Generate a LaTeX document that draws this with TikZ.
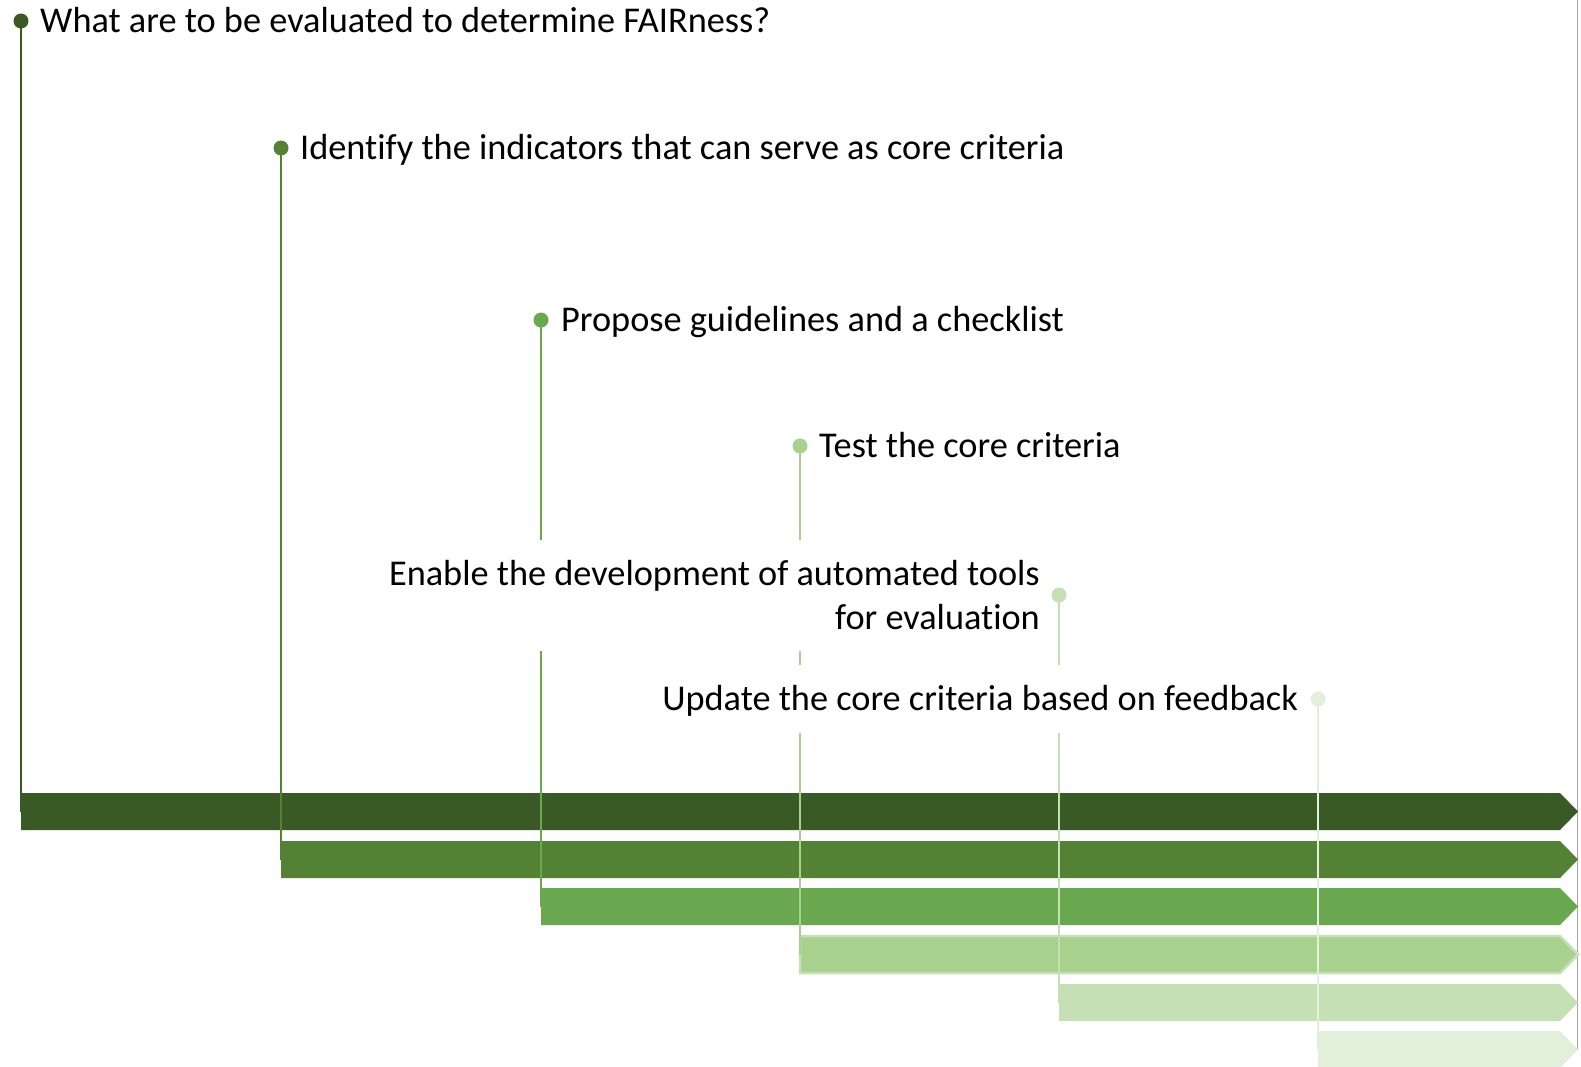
\documentclass[tikz,border=0pt]{standalone}
\usepackage{fontspec}
\setmainfont{Carlito}[Ligatures=CommonOff]
\definecolor{gA}{HTML}{3A5A25}
\definecolor{gB}{HTML}{548235}
\definecolor{gC}{HTML}{6AA84F}
\definecolor{gD}{HTML}{A9D18E}
\definecolor{gDo}{HTML}{C5E0B4}
\definecolor{gE}{HTML}{C5E0B4}
\definecolor{gF}{HTML}{E2EFDA}
\definecolor{edge}{HTML}{A6A6A6}
\begin{document}
\begin{tikzpicture}[x=1pt,y=-1pt,
  dot/.style={circle,fill=#1,inner sep=0pt,minimum size=15pt},
  stem/.style={draw=#1,line width=2.8pt},
  lbl/.style={inner sep=0pt,font=\fontsize{36.3}{44}\selectfont},
  bar/.style={fill=#1}]
\useasboundingbox (0,0) rectangle (1581,1066);
% right border line
\coordinate (e1) at (1577.5,0);
\coordinate (e2) at (1577.5,1050);
\draw[edge,line width=1.5pt] (e1) -- (e2);
% bars
\foreach \L/\T/\c/\n in {21/793/gA/1, 281/841/gB/2, 541/888/gC/3, 800/936/gD/4, 1059/984/gE/5, 1318/1031/gF/6}{
  \ifnum\n=4
    \path[bar=\c,draw=gDo,line width=2.5pt,line join=miter] (\L,\T) -- (1560,\T) -- (1578,\T+18.5) -- (1560,\T+37) -- (\L,\T+37) -- cycle;
  \else
    \path[bar=\c] (\L,\T) -- (1560,\T) -- (1578,\T+18.5) -- (1560,\T+37) -- (\L,\T+37) -- cycle;
  \fi
  \coordinate (b\n) at (\L,\T+18.5);
}
% dots
\node[dot=gA] (d1) at (21,21) {};
\node[dot=gB] (d2) at (281,148) {};
\node[dot=gC] (d3) at (541,320) {};
\node[dot=gD] (d4) at (800,446) {};
\node[dot=gE] (d5) at (1059,595) {};
\node[dot=gF] (d6) at (1318,699) {};
% gap coordinates
\coordinate (g3a) at (541,540);  \coordinate (g3b) at (541,651);
\coordinate (g4a) at (800,540);  \coordinate (g4b) at (800,651);
\coordinate (g4c) at (800,665);  \coordinate (g4d) at (800,733);
\coordinate (g5a) at (1059,665); \coordinate (g5b) at (1059,733);
% stems
\draw[stem=gA] (d1.center) -- (b1);
\draw[stem=gB] (d2.center) -- (b2);
\draw[stem=gC] (d3.center) -- (g3a);
\draw[stem=gC] (g3b) -- (b3);
\draw[stem=gD] (d4.center) -- (g4a);
\draw[stem=gD] (g4b) -- (g4c);
\draw[stem=gD] (g4d) -- (b4);
\draw[stem=gE] (d5.center) -- (g5a);
\draw[stem=gE] (g5b) -- (b5);
\draw[stem=gF] (d6.center) -- (b6);
% labels
\node[lbl,anchor=base west] (t1) at (40,32) {What are to be evaluated to determine FAIRness?};
\node[lbl,anchor=base west] (t2) at (300,159) {Identify the indicators that can serve as core criteria};
\node[lbl,anchor=base west] (t3) at (561,331) {Propose guidelines and a checklist};
\node[lbl,anchor=base west] (t4) at (819,457) {Test the core criteria};
\node[lbl,anchor=base east] (t5a) at (1040,585) {Enable the development of automated tools};
\node[lbl,anchor=base east] (t5b) at (1040,629) {for evaluation};
\node[lbl,anchor=base east] (t6) at (1298,710) {Update the core criteria based on feedback};
\end{tikzpicture}
\end{document}
